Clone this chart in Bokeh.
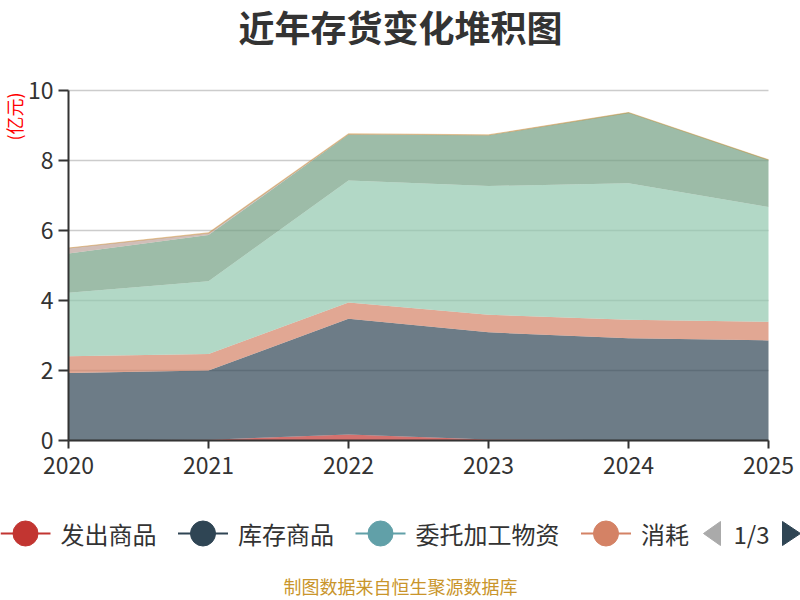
import numpy as np
from bokeh.plotting import figure
from bokeh.models import ColumnDataSource, Range1d, FixedTicker, Label
from bokeh.embed import file_html
from bokeh.resources import INLINE
from bokeh.core.properties import value

# ---------------- data ----------------
years = [2020, 2021, 2022, 2023, 2024, 2025]
fachu_shangpin = [0.01, 0.02, 0.17, 0.03, 0.01, 0.01]      # 发出商品
kucun_shangpin = [1.92, 1.98, 3.31, 3.06, 2.91, 2.85]      # 库存商品
weituo_jiagong = [0.0, 0.0, 0.0, 0.0, 0.0, 0.0]            # 委托加工物资
xiaohao_xing = [0.48, 0.47, 0.46, 0.50, 0.53, 0.53]        # 消耗性生物资产
yuancailiao = [1.81, 2.08, 3.49, 3.68, 3.90, 3.28]         # 原材料
zaichanpin = [1.12, 1.32, 1.31, 1.45, 2.02, 1.35]          # 在产品
zhouzhuan_cailiao = [0.0, 0.0, 0.0, 0.0, 0.0, 0.0]         # 周转材料
qita = [0.16, 0.06, 0.02, 0.01, 0.0, 0.0]                  # 其他

series_names = ["发出商品", "库存商品", "委托加工物资", "消耗性生物资产",
                "原材料", "在产品", "周转材料", "其他"]
series_values = [fachu_shangpin, kucun_shangpin, weituo_jiagong, xiaohao_xing,
                 yuancailiao, zaichanpin, zhouzhuan_cailiao, qita]
series_colors = ["#c23531", "#2f4554", "#61a0a8", "#d48265",
                 "#91c7ae", "#749f83", "#ca8622", "#bda29a"]
legend_labels = ["发出商品", "库存商品", "委托加工物资", "消耗"]
y_ticks = [0, 2, 4, 6, 8, 10]
title_text = "近年存货变化堆积图"
unit_text = "(亿元)"
footer_text = "制图数据来自恒生聚源数据库"
page_text = "1/3"

FONT = "Noto Sans CJK SC"
TXT = "#333333"

# ---------------- layout (pixels) ----------------
W, H = 800, 600
PL, PR, PT, PB = 68, 768, 90, 440          # plot area in canvas pixels
xs = (PR - PL) / (years[-1] - years[0])    # px per year
ys = (PB - PT) / (y_ticks[-1] - y_ticks[0])  # px per unit


def X(px):
    return years[0] + (px - PL) / xs


def Y(py):
    return y_ticks[0] + (PB - py) / ys


data = {"year": years}
for n, v in zip(series_names, series_values):
    data[n] = v
source = ColumnDataSource(data)

p = figure(width=W, height=H, x_range=Range1d(X(0), X(W)), y_range=Range1d(Y(H), Y(0)),
           output_backend="svg", toolbar_location=None,
           min_border_left=0, min_border_right=0, min_border_top=0,
           min_border_bottom=0, background_fill_color="white",
           border_fill_color="white")
p.outline_line_color = None

p.varea_stack(stackers=series_names, x="year", color=series_colors,
              fill_alpha=0.7, source=source)
top = np.sum(np.array(series_values), axis=0)
p.line(years, top, line_color="#ca8622", line_alpha=0.45, line_width=1.2)

# axes inside the frame
p.xaxis.fixed_location = y_ticks[0]
p.yaxis.fixed_location = years[0]
p.xaxis.bounds = (years[0], years[-1])
p.yaxis.bounds = (y_ticks[0], y_ticks[-1])
p.xgrid.visible = False
p.ygrid.grid_line_color = "#cccccc"
p.ygrid.grid_line_width = 1.5
p.ygrid.cross_bounds = (years[0], years[-1])
p.xaxis.ticker = FixedTicker(ticks=years)
p.yaxis.ticker = FixedTicker(ticks=y_ticks)
for ax in (p.xaxis, p.yaxis):
    ax.axis_line_color = TXT
    ax.axis_line_width = 2
    ax.major_tick_line_color = TXT
    ax.major_tick_line_width = 2
    ax.major_tick_in = 0
    ax.minor_tick_line_color = None
    ax.major_label_text_font = FONT
    ax.major_label_text_font_size = "23px"
    ax.major_label_text_color = TXT
p.xaxis.major_tick_out = 8
p.yaxis.major_tick_out = 10
p.xaxis.major_label_standoff = 8
p.yaxis.major_label_standoff = 5

# title and unit
p.add_layout(Label(x=W / 2, y=H - 25, x_units="screen", y_units="screen",
                   text=title_text, text_align="center", text_baseline="middle",
                   text_font=FONT, text_font_size="36px", text_font_style="bold",
                   text_color=TXT))
p.add_layout(Label(x=13, y=H - 116, x_units="screen", y_units="screen",
                   text=unit_text, angle=np.pi / 2, text_align="center",
                   text_baseline="middle", text_font=FONT,
                   text_font_size="18px", text_color="#ff0000"))

# legend (page 1 of 3)
ly = 533
x0 = 0
icon_x, text_x = [], []
for lab in legend_labels:
    icon_x.append(x0)
    text_x.append(x0 + 60)
    x0 = x0 + 60 + 24 * len(lab) + 21.5
for ix, col in zip(icon_x, series_colors[:len(legend_labels)]):
    p.segment(x0=[X(ix)], y0=[Y(ly)], x1=[X(ix + 50)], y1=[Y(ly)],
              line_color=col, line_width=2)
    p.scatter(x=[X(ix + 25)], y=[Y(ly)], size=25, marker="circle",
              fill_color=col, line_color=col)
p.text(x=[X(t) for t in text_x], y=[Y(ly)] * len(text_x), text=legend_labels,
       text_font=value(FONT), text_font_size="24px", text_color=TXT,
       text_align="left", text_baseline="middle")
p.patch(x=[X(720), X(703), X(720)], y=[Y(ly - 12), Y(ly), Y(ly + 12)],
        fill_color="#aaaaaa", line_color="#aaaaaa")
p.text(x=[X(751)], y=[Y(ly)], text=[page_text], text_font=value(FONT),
       text_font_size="24px", text_color=TXT, text_align="center",
       text_baseline="middle")
p.patch(x=[X(782), X(800), X(782)], y=[Y(ly - 12), Y(ly), Y(ly + 12)],
        fill_color="#2f4554", line_color="#2f4554")
p.text(x=[X(W / 2)], y=[Y(585)], text=[footer_text], text_font=value(FONT),
       text_font_size="18px", text_color="#c9952b", text_align="center",
       text_baseline="middle")

open("out.html", "w").write(file_html(p, INLINE))
